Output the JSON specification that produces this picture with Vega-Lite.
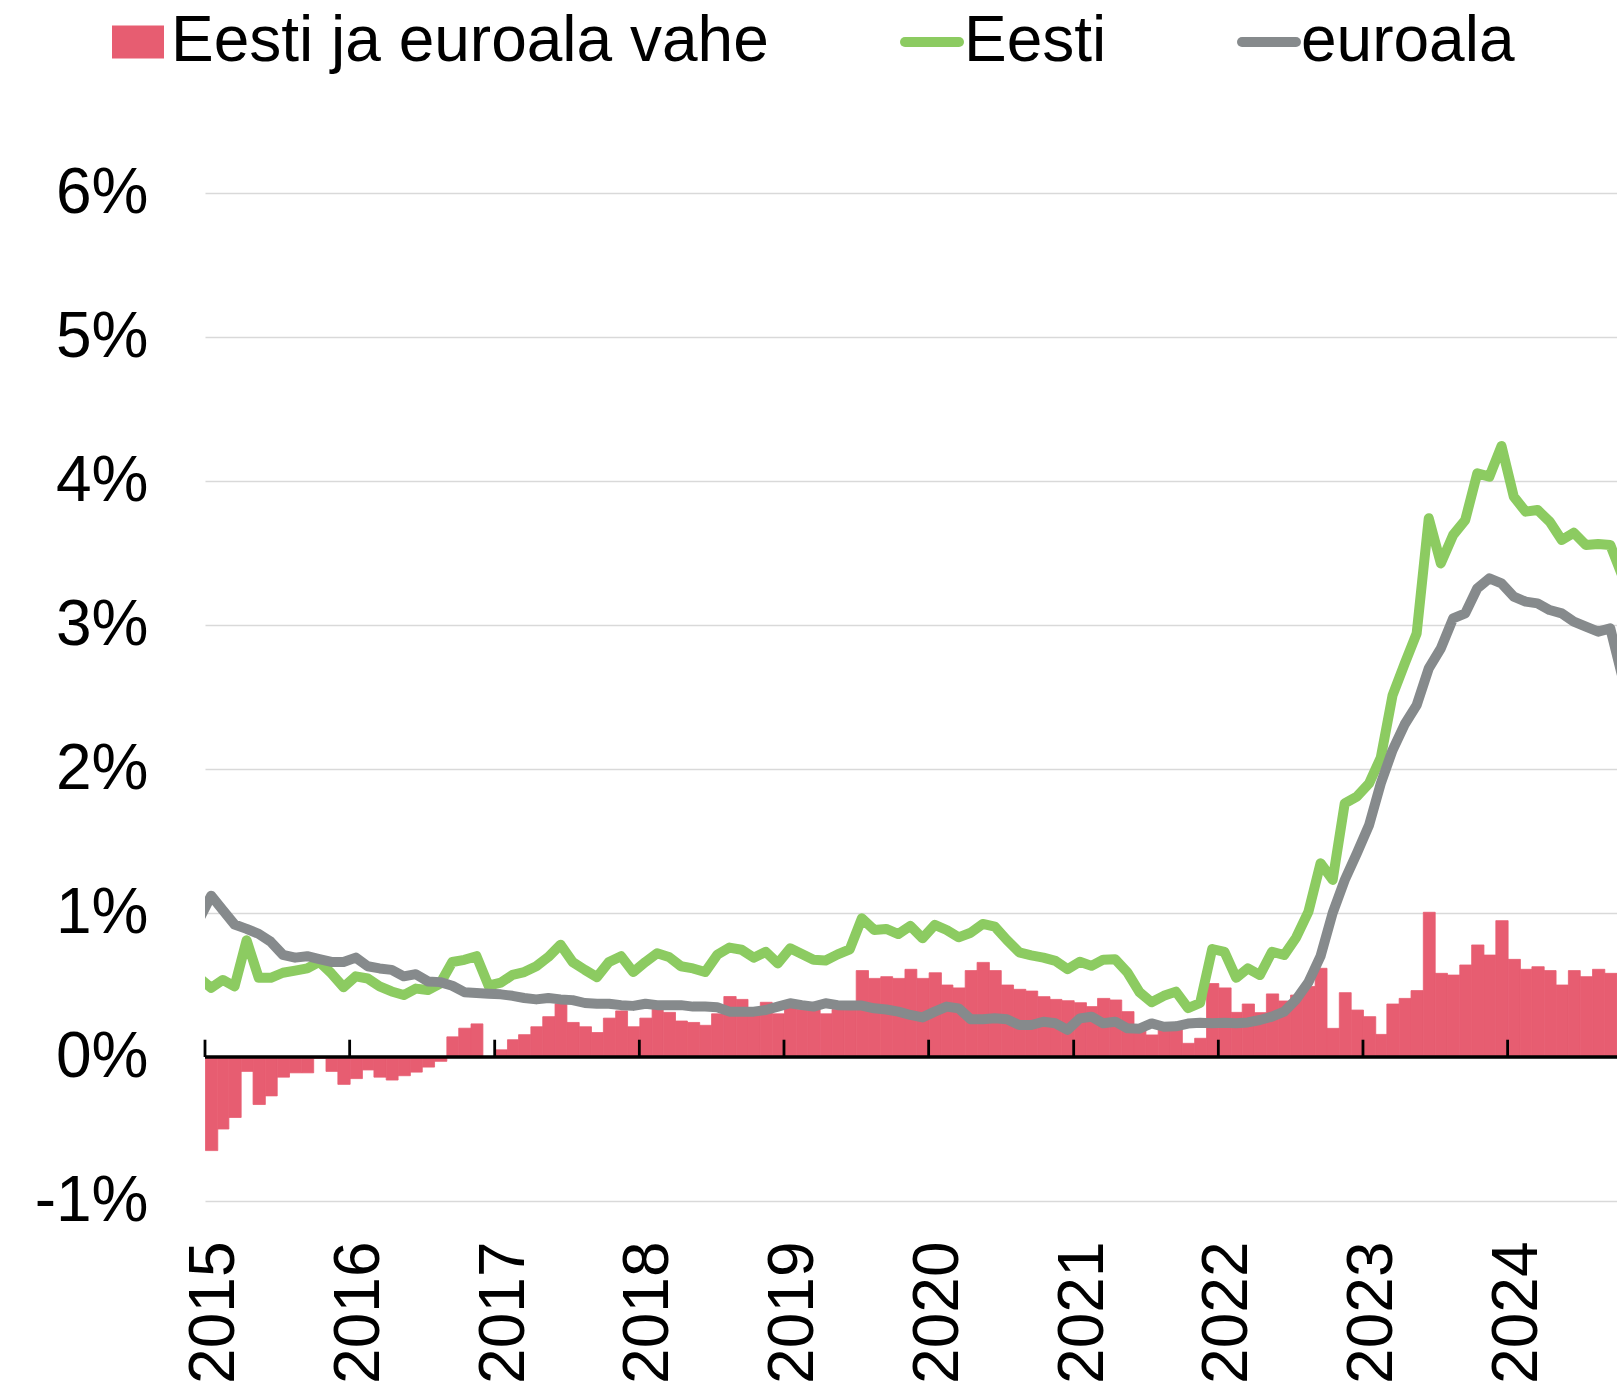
{
  "$schema": "https://vega.github.io/schema/vega-lite/v6.json",
  "width": 1412,
  "height": 1008,
  "autosize": {"type": "none"},
  "padding": {"left": 205, "top": 193, "right": 0, "bottom": 185},
  "background": "white",
  "config": {"view": {"stroke": null}, "font": "Liberation Sans"},
  "datasets": {
    "monthly": [
      {"d":"2014-12","Eesti":0.55,"euroala":0.95},
      {"d":"2015-01","Eesti":0.48,"euroala":1.12,"vahe":-0.65},
      {"d":"2015-02","Eesti":0.535,"euroala":1.02,"vahe":-0.50},
      {"d":"2015-03","Eesti":0.49,"euroala":0.92,"vahe":-0.42},
      {"d":"2015-04","Eesti":0.81,"euroala":0.89,"vahe":-0.10},
      {"d":"2015-05","Eesti":0.55,"euroala":0.855,"vahe":-0.33},
      {"d":"2015-06","Eesti":0.55,"euroala":0.80,"vahe":-0.27},
      {"d":"2015-07","Eesti":0.585,"euroala":0.71,"vahe":-0.14},
      {"d":"2015-08","Eesti":0.60,"euroala":0.69,"vahe":-0.11},
      {"d":"2015-09","Eesti":0.615,"euroala":0.70,"vahe":-0.11},
      {"d":"2015-10","Eesti":0.66,"euroala":0.68,"vahe":-0.01},
      {"d":"2015-11","Eesti":0.58,"euroala":0.66,"vahe":-0.10},
      {"d":"2015-12","Eesti":0.485,"euroala":0.66,"vahe":-0.19},
      {"d":"2016-01","Eesti":0.56,"euroala":0.69,"vahe":-0.15},
      {"d":"2016-02","Eesti":0.545,"euroala":0.63,"vahe":-0.09},
      {"d":"2016-03","Eesti":0.49,"euroala":0.615,"vahe":-0.14},
      {"d":"2016-04","Eesti":0.455,"euroala":0.605,"vahe":-0.16},
      {"d":"2016-05","Eesti":0.43,"euroala":0.56,"vahe":-0.13},
      {"d":"2016-06","Eesti":0.475,"euroala":0.575,"vahe":-0.105},
      {"d":"2016-07","Eesti":0.465,"euroala":0.525,"vahe":-0.07},
      {"d":"2016-08","Eesti":0.51,"euroala":0.52,"vahe":-0.03},
      {"d":"2016-09","Eesti":0.66,"euroala":0.495,"vahe":0.14},
      {"d":"2016-10","Eesti":0.675,"euroala":0.45,"vahe":0.20},
      {"d":"2016-11","Eesti":0.70,"euroala":0.445,"vahe":0.23},
      {"d":"2016-12","Eesti":0.495,"euroala":0.44,"vahe":0.0},
      {"d":"2017-01","Eesti":0.516,"euroala":0.435,"vahe":0.05},
      {"d":"2017-02","Eesti":0.57,"euroala":0.425,"vahe":0.12},
      {"d":"2017-03","Eesti":0.59,"euroala":0.41,"vahe":0.155},
      {"d":"2017-04","Eesti":0.63,"euroala":0.40,"vahe":0.21},
      {"d":"2017-05","Eesti":0.695,"euroala":0.41,"vahe":0.28},
      {"d":"2017-06","Eesti":0.78,"euroala":0.40,"vahe":0.37},
      {"d":"2017-07","Eesti":0.66,"euroala":0.395,"vahe":0.24},
      {"d":"2017-08","Eesti":0.605,"euroala":0.375,"vahe":0.21},
      {"d":"2017-09","Eesti":0.555,"euroala":0.37,"vahe":0.17},
      {"d":"2017-10","Eesti":0.66,"euroala":0.37,"vahe":0.27},
      {"d":"2017-11","Eesti":0.70,"euroala":0.36,"vahe":0.32},
      {"d":"2017-12","Eesti":0.59,"euroala":0.355,"vahe":0.21},
      {"d":"2018-01","Eesti":0.66,"euroala":0.37,"vahe":0.27},
      {"d":"2018-02","Eesti":0.72,"euroala":0.36,"vahe":0.35},
      {"d":"2018-03","Eesti":0.695,"euroala":0.36,"vahe":0.31},
      {"d":"2018-04","Eesti":0.63,"euroala":0.36,"vahe":0.25},
      {"d":"2018-05","Eesti":0.615,"euroala":0.35,"vahe":0.24},
      {"d":"2018-06","Eesti":0.59,"euroala":0.35,"vahe":0.22},
      {"d":"2018-07","Eesti":0.71,"euroala":0.345,"vahe":0.30},
      {"d":"2018-08","Eesti":0.76,"euroala":0.315,"vahe":0.42},
      {"d":"2018-09","Eesti":0.745,"euroala":0.315,"vahe":0.40},
      {"d":"2018-10","Eesti":0.69,"euroala":0.315,"vahe":0.33},
      {"d":"2018-11","Eesti":0.73,"euroala":0.326,"vahe":0.38},
      {"d":"2018-12","Eesti":0.65,"euroala":0.35,"vahe":0.30},
      {"d":"2019-01","Eesti":0.755,"euroala":0.373,"vahe":0.36},
      {"d":"2019-02","Eesti":0.715,"euroala":0.36,"vahe":0.33},
      {"d":"2019-03","Eesti":0.675,"euroala":0.35,"vahe":0.33},
      {"d":"2019-04","Eesti":0.67,"euroala":0.373,"vahe":0.30},
      {"d":"2019-05","Eesti":0.713,"euroala":0.36,"vahe":0.33},
      {"d":"2019-06","Eesti":0.748,"euroala":0.357,"vahe":0.34},
      {"d":"2019-07","Eesti":0.963,"euroala":0.357,"vahe":0.60},
      {"d":"2019-08","Eesti":0.882,"euroala":0.338,"vahe":0.546},
      {"d":"2019-09","Eesti":0.889,"euroala":0.33,"vahe":0.558},
      {"d":"2019-10","Eesti":0.854,"euroala":0.315,"vahe":0.546},
      {"d":"2019-11","Eesti":0.91,"euroala":0.292,"vahe":0.609},
      {"d":"2019-12","Eesti":0.824,"euroala":0.275,"vahe":0.546},
      {"d":"2020-01","Eesti":0.917,"euroala":0.315,"vahe":0.585},
      {"d":"2020-02","Eesti":0.882,"euroala":0.35,"vahe":0.50},
      {"d":"2020-03","Eesti":0.831,"euroala":0.338,"vahe":0.48},
      {"d":"2020-04","Eesti":0.863,"euroala":0.262,"vahe":0.60},
      {"d":"2020-05","Eesti":0.924,"euroala":0.262,"vahe":0.657},
      {"d":"2020-06","Eesti":0.905,"euroala":0.269,"vahe":0.60},
      {"d":"2020-07","Eesti":0.8125,"euroala":0.262,"vahe":0.50},
      {"d":"2020-08","Eesti":0.727,"euroala":0.222,"vahe":0.47},
      {"d":"2020-09","Eesti":0.706,"euroala":0.222,"vahe":0.458},
      {"d":"2020-10","Eesti":0.69,"euroala":0.245,"vahe":0.419},
      {"d":"2020-11","Eesti":0.668,"euroala":0.234,"vahe":0.40},
      {"d":"2020-12","Eesti":0.61,"euroala":0.188,"vahe":0.391},
      {"d":"2021-01","Eesti":0.662,"euroala":0.268,"vahe":0.377},
      {"d":"2021-02","Eesti":0.633,"euroala":0.28,"vahe":0.35},
      {"d":"2021-03","Eesti":0.676,"euroala":0.234,"vahe":0.407},
      {"d":"2021-04","Eesti":0.678,"euroala":0.245,"vahe":0.396},
      {"d":"2021-05","Eesti":0.587,"euroala":0.199,"vahe":0.315},
      {"d":"2021-06","Eesti":0.45,"euroala":0.197,"vahe":0.22},
      {"d":"2021-07","Eesti":0.38,"euroala":0.233,"vahe":0.153},
      {"d":"2021-08","Eesti":0.425,"euroala":0.21,"vahe":0.22},
      {"d":"2021-09","Eesti":0.454,"euroala":0.213,"vahe":0.21},
      {"d":"2021-10","Eesti":0.34,"euroala":0.232,"vahe":0.095},
      {"d":"2021-11","Eesti":0.375,"euroala":0.238,"vahe":0.13},
      {"d":"2021-12","Eesti":0.75,"euroala":0.234,"vahe":0.51},
      {"d":"2022-01","Eesti":0.73,"euroala":0.238,"vahe":0.48},
      {"d":"2022-02","Eesti":0.55,"euroala":0.234,"vahe":0.31},
      {"d":"2022-03","Eesti":0.616,"euroala":0.24,"vahe":0.368},
      {"d":"2022-04","Eesti":0.569,"euroala":0.257,"vahe":0.308},
      {"d":"2022-05","Eesti":0.731,"euroala":0.28,"vahe":0.438},
      {"d":"2022-06","Eesti":0.708,"euroala":0.315,"vahe":0.389},
      {"d":"2022-07","Eesti":0.83,"euroala":0.40,"vahe":0.43},
      {"d":"2022-08","Eesti":1.01,"euroala":0.52,"vahe":0.49},
      {"d":"2022-09","Eesti":1.345,"euroala":0.70,"vahe":0.616},
      {"d":"2022-10","Eesti":1.23,"euroala":1.00,"vahe":0.199},
      {"d":"2022-11","Eesti":1.762,"euroala":1.229,"vahe":0.447},
      {"d":"2022-12","Eesti":1.808,"euroala":1.414,"vahe":0.326},
      {"d":"2023-01","Eesti":1.90,"euroala":1.611,"vahe":0.28},
      {"d":"2023-02","Eesti":2.08,"euroala":1.90,"vahe":0.157},
      {"d":"2023-03","Eesti":2.51,"euroala":2.13,"vahe":0.368},
      {"d":"2023-04","Eesti":2.73,"euroala":2.309,"vahe":0.407},
      {"d":"2023-05","Eesti":2.942,"euroala":2.444,"vahe":0.461},
      {"d":"2023-06","Eesti":3.741,"euroala":2.699,"vahe":1.005},
      {"d":"2023-07","Eesti":3.428,"euroala":2.838,"vahe":0.581},
      {"d":"2023-08","Eesti":3.625,"euroala":3.046,"vahe":0.569},
      {"d":"2023-09","Eesti":3.729,"euroala":3.081,"vahe":0.639},
      {"d":"2023-10","Eesti":4.053,"euroala":3.255,"vahe":0.778},
      {"d":"2023-11","Eesti":4.03,"euroala":3.324,"vahe":0.708},
      {"d":"2023-12","Eesti":4.243,"euroala":3.289,"vahe":0.947},
      {"d":"2024-01","Eesti":3.891,"euroala":3.197,"vahe":0.678},
      {"d":"2024-02","Eesti":3.787,"euroala":3.162,"vahe":0.609},
      {"d":"2024-03","Eesti":3.799,"euroala":3.15,"vahe":0.627},
      {"d":"2024-04","Eesti":3.718,"euroala":3.104,"vahe":0.60},
      {"d":"2024-05","Eesti":3.59,"euroala":3.081,"vahe":0.50},
      {"d":"2024-06","Eesti":3.641,"euroala":3.023,"vahe":0.60},
      {"d":"2024-07","Eesti":3.556,"euroala":2.988,"vahe":0.558},
      {"d":"2024-08","Eesti":3.563,"euroala":2.954,"vahe":0.609},
      {"d":"2024-09","Eesti":3.556,"euroala":2.977,"vahe":0.581},
      {"d":"2024-10","Eesti":3.34,"euroala":2.64,"vahe":0.58}
    ],
    "years": [
      {"t":"2015-01-01"},{"t":"2016-01-01"},{"t":"2017-01-01"},{"t":"2018-01-01"},{"t":"2019-01-01"},
      {"t":"2020-01-01"},{"t":"2021-01-01"},{"t":"2022-01-01"},{"t":"2023-01-01"},{"t":"2024-01-01"}
    ]
  },
  "layer": [
    {
      "data": {"name": "monthly"},
      "mark": {"type": "bar", "color": "#E75D71", "stroke": "#E75D71", "strokeWidth": 0.8, "clip": true, "binSpacing": 0},
      "encoding": {
        "x": {
          "field": "d", "type": "temporal", "timeUnit": "utcyearmonth",
          "scale": {"type": "utc", "nice": false,
            "domain": [{"year": 2015, "month": 1, "date": 1, "utc": true}, {"year": 2024, "month": 10, "date": 3, "utc": true}]},
          "axis": {
            "title": null,
            "labelExpr": "utcFormat(datum.value, '%Y')",
            "tickCount": {"interval": "year", "step": 1},
            "labelAngle": 270, "labelFontSize": 64, "labelColor": "black",
            "ticks": false, "domain": false, "grid": false, "labelLimit": 0,
            "labelPadding": 40, "labelOffset": 9.5, "labelFlush": false, "labelOverlap": false, "labelBound": false
          }
        },
        "y": {
          "field": "vahe", "type": "quantitative",
          "scale": {"domain": [-1, 6], "nice": false, "zero": false},
          "axis": {
            "title": null, "values": [-1, 0, 1, 2, 3, 4, 5, 6],
            "labelExpr": "datum.value + '%'",
            "labelFontSize": 64, "labelColor": "black",
            "ticks": false, "domain": false, "grid": true,
            "gridColor": "#D9D9D9", "gridWidth": 1.5, "labelPadding": 57
          }
        },
        "fill": {
          "datum": "Eesti ja euroala vahe",
          "scale": {"range": ["#E75D71"]},
          "legend": {
            "orient": "none", "legendX": -99, "legendY": -183, "title": null,
            "symbolType": "M-1,-0.635H1V0.635H-1Z", "symbolSize": 2704, "symbolStrokeWidth": 0,
            "labelFontSize": 64, "labelColor": "black", "labelOffset": 1, "padding": 0, "labelLimit": 0
          }
        }
      }
    },
    {
      "data": {"values": [{}]},
      "mark": {"type": "rule", "color": "black", "strokeWidth": 3.3},
      "encoding": {"y": {"datum": 0}}
    },
    {
      "data": {"name": "years"},
      "mark": {"type": "rule", "color": "black", "strokeWidth": 2.8},
      "encoding": {
        "x": {"field": "t", "type": "temporal", "scale": {"type": "utc"}},
        "y": {"datum": 0},
        "y2": {"datum": 0.12}
      }
    },
    {
      "data": {"name": "monthly"},
      "transform": [{"fold": ["Eesti", "euroala"], "as": ["series", "value"]}],
      "mark": {"type": "line", "strokeWidth": 10, "clip": true, "strokeJoin": "round", "strokeCap": "round"},
      "encoding": {
        "x": {"field": "d", "type": "temporal", "timeUnit": "utcyearmonth", "bandPosition": 0.5},
        "y": {"field": "value", "type": "quantitative"},
        "stroke": {
          "field": "series", "type": "nominal",
          "scale": {"domain": ["Eesti", "euroala"], "range": ["#8CCB61", "#868A8C"]},
          "legend": {
            "orient": "none", "direction": "horizontal", "legendX": 695, "legendY": -183, "title": null,
            "symbolType": "stroke", "symbolSize": 2916, "symbolStrokeWidth": 10,
            "labelFontSize": 64, "labelColor": "black", "labelOffset": 0, "columnPadding": 115,
            "padding": 0, "labelLimit": 0,
            "encode": {"symbols": {"update": {"strokeCap": {"value": "round"}}}}
          }
        }
      }
    }
  ]
}
